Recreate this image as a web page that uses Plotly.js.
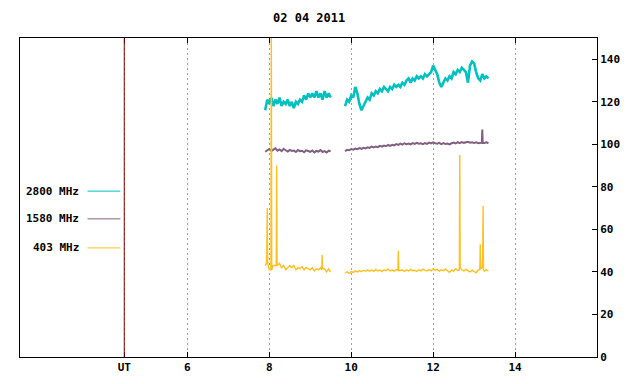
<!DOCTYPE html>
<html>
<head>
<meta charset="utf-8">
<script src="https://cdn.plot.ly/plotly-3.0.1.min.js"></script>
<style>html,body{margin:0;padding:0;background:#fff;}#chart{width:640px;height:384px;}</style>
</head>
<body>
<div id="chart"></div>
<script>
// Time (UT hours), two observing segments (2800 MHz)
const time1 = [7.90,7.95,8.00,8.05,8.10,8.15,8.20,8.25,8.30,8.35,8.40,8.45,8.50,8.55,8.60,8.65,8.70,8.75,8.80,8.85,8.90,8.95,9.00,9.05,9.10,9.15,9.20,9.25,9.30,9.35,9.40,9.45,9.50];
const time2 = [9.85,9.90,9.95,10.00,10.05,10.10,10.15,10.20,10.25,10.30,10.35,10.40,10.45,10.50,10.55,10.60,10.65,10.70,10.75,10.80,10.85,10.90,10.95,11.00,11.05,11.10,11.15,11.20,11.25,11.30,11.35,11.40,11.45,11.50,11.55,11.60,11.65,11.70,11.75,11.80,11.85,11.90,11.95,12.00,12.05,12.10,12.15,12.20,12.25,12.30,12.35,12.40,12.45,12.50,12.55,12.60,12.65,12.70,12.75,12.80,12.85,12.90,12.95,13.00,13.05,13.10,13.15,13.20,13.25,13.30,13.35];

// 2800 MHz (cyan)
const f2800_1 = [116,121,119,122,118,121,119,122,118,120,119,121,118,120,117,120,119,121,120,123,121,124,122,124,122,125,122,124,121,125,122,124,122];
const f2800_2 = [118,121,120,123,122,127,124,119,116,118,120,122,121,124,123,125,124,126,125,127,126,125,127,126,128,127,128,127,129,128,130,131,129,131,130,132,131,132,131,133,132,133,134,137,135,133,129,127,129,131,130,132,131,134,133,135,134,136,135,134,129,137,139,138,134,131,130,133,131,132,131];

// 1580 MHz (purple)
const time1p = time1;
const time2p = [9.85,9.90,9.95,10.00,10.05,10.10,10.15,10.20,10.25,10.30,10.35,10.40,10.45,10.50,10.55,10.60,10.65,10.70,10.75,10.80,10.85,10.90,10.95,11.00,11.05,11.10,11.15,11.20,11.25,11.30,11.35,11.40,11.45,11.50,11.55,11.60,11.65,11.70,11.75,11.80,11.85,11.90,11.95,12.00,12.05,12.10,12.15,12.20,12.25,12.30,12.35,12.40,12.45,12.50,12.55,12.60,12.65,12.70,12.75,12.80,12.85,12.90,12.95,13.00,13.05,13.10,13.15,13.19,13.20,13.21,13.25,13.30,13.35];
const f1580_1 = [96.5,97.2,97.8,96.9,97.5,98.1,97.0,97.6,96.8,97.9,97.2,96.6,97.4,96.9,97.1,96.4,97.3,96.8,97.0,96.3,97.2,96.7,96.5,97.1,96.2,96.9,96.6,97.3,96.4,96.8,96.2,97.0,96.7];
const f1580_2 = [96.8,97.4,97.2,97.8,97.5,98.0,97.7,98.2,97.9,98.4,98.1,98.6,98.3,98.9,98.5,99.0,98.7,99.3,98.9,99.4,99.1,99.7,99.3,99.8,99.5,100.1,99.7,100.3,99.9,100.5,100.1,100.4,100.0,100.6,100.2,100.7,100.3,100.5,100.1,100.6,100.2,100.8,100.4,100.9,100.5,100.3,100.7,100.1,100.6,100.2,100.4,100.0,100.5,100.8,100.4,101.0,100.6,101.1,100.7,100.9,101.2,100.8,101.0,100.6,100.9,100.5,100.8,100.8,107.0,100.6,100.6,100.9,100.5];

// 403 MHz (orange)
const time1o = [7.90,7.93,7.94,7.95,7.96,8.00,8.04,8.05,8.06,8.10,8.15,8.17,8.18,8.19,8.25,8.30,8.35,8.40,8.45,8.50,8.55,8.60,8.65,8.70,8.75,8.80,8.85,8.90,8.95,9.00,9.05,9.10,9.15,9.20,9.25,9.28,9.29,9.30,9.35,9.40,9.45,9.50];
const f403_1 = [43,44,48,70,44,41,41,160,41,43,43,43,90,43,44,42,43,41,42,43,42,43,41,42,41.5,42.5,41,42,41.5,41,42,40.5,41.5,41,42,41,48,41.5,41.5,40,41.5,40];
const time2o = [9.85,9.90,9.95,10.00,10.05,10.10,10.15,10.20,10.25,10.30,10.35,10.40,10.45,10.50,10.55,10.60,10.65,10.70,10.75,10.80,10.85,10.90,10.95,11.00,11.05,11.10,11.14,11.15,11.16,11.20,11.25,11.30,11.35,11.40,11.45,11.50,11.55,11.60,11.65,11.70,11.75,11.80,11.85,11.90,11.95,12.00,12.05,12.10,12.15,12.20,12.25,12.30,12.35,12.40,12.45,12.50,12.55,12.60,12.64,12.65,12.66,12.70,12.75,12.80,12.85,12.90,12.95,13.00,13.05,13.10,13.14,13.15,13.16,13.20,13.21,13.22,13.23,13.25,13.30,13.35];
const f403_2 = [39.5,40.0,39.3,40.2,39.8,40.5,40.0,40.6,40.1,40.8,40.3,41.0,40.4,40.9,40.3,41.2,40.5,40.9,40.2,41.0,40.6,41.3,40.5,40.9,40.4,41.1,40.8,50.0,40.6,40.6,40.9,40.3,41.0,40.5,41.2,40.6,40.8,40.2,41.0,40.5,41.3,40.7,40.4,41.1,40.5,41.4,40.8,41.2,40.4,41.0,40.6,41.3,40.7,39.8,40.9,40.3,41.5,40.7,40.9,95.0,42.0,41.0,40.5,41.2,40.6,40.0,40.8,40.3,39.6,40.9,41.0,53.0,41.5,42.0,48.0,71.0,41.0,40.4,41.0,40.5];

const tickVals = [4.46,6,8,10,12,14];
const tickText = ['UT','6','8','10','12','14'];
const yTicks = [0,20,40,60,80,100,120,140];
const titleText = '02 04 2011';
const legendNames = ['2800 MHz','1580 MHz','403 MHz'];
const colors = ['#00C0C0','#806080','#FFBF1F'];

const join = (a,b) => a.concat([null], b);

const FONT = {family:'"DejaVu Sans Mono", "Liberation Mono", monospace', size:11, color:'#000'};

const traces = [
  {x:join(time1p,time2p), y:join(f1580_1,f1580_2), mode:'lines', line:{color:colors[1], width:2}, connectgaps:false},
  {x:join(time1,time2), y:join(f2800_1,f2800_2), mode:'lines', line:{color:colors[0], width:2.6}, connectgaps:false},
  {x:join(time1o,time2o), y:join(f403_1,f403_2), mode:'lines', line:{color:colors[2], width:1.4}, connectgaps:false}
];

const legY = [0.520, 0.433, 0.342];
const shapes = [
  {type:'line', xref:'x', yref:'paper', x0:4.46, x1:4.46, y0:0, y1:1, line:{color:'#800000', width:1}}
];
const annotations = [];
legendNames.forEach((n,i)=>{
  shapes.push({type:'line', xref:'paper', yref:'paper', x0:0.117, x1:0.174, y0:legY[i], y1:legY[i], line:{color:colors[i], width:1}});
  annotations.push({xref:'paper', yref:'paper', x:0.106, y:legY[i], xanchor:'right', yanchor:'middle', text:'<b>'+n+'</b>', showarrow:false, font:FONT});
});

const layout = {
  width:640, height:384,
  margin:{l:20, r:43, t:38, b:27},
  paper_bgcolor:'#fff', plot_bgcolor:'#fff',
  showlegend:false,
  title:{text:'<b>'+titleText+'</b>', font:Object.assign({}, FONT, {size:12}), x:0.483, xanchor:'center', y:0.953, yanchor:'middle'},
  xaxis:{range:[1.915,16.0], tickvals:tickVals, ticktext:tickText.map(t=>'<b>'+t+'</b>'),
    ticks:'inside', ticklen:5, tickcolor:'#000', showline:true, linecolor:'#000', linewidth:1, mirror:'ticks',
    showgrid:true, gridcolor:'#A0A0A0', griddash:'2px,3px', gridwidth:1, zeroline:false, tickfont:FONT},
  yaxis:{range:[0,150], side:'right', tickvals:yTicks, ticktext:yTicks.map(v=>'<b>'+v+'</b>'),
    ticks:'inside', ticklen:5, tickcolor:'#000', showline:true, linecolor:'#000', linewidth:1, mirror:true,
    showgrid:false, zeroline:false, tickfont:FONT},
  shapes:shapes,
  annotations:annotations
};

Plotly.newPlot('chart', traces, layout, {displayModeBar:false, staticPlot:true});
</script>
</body>
</html>
